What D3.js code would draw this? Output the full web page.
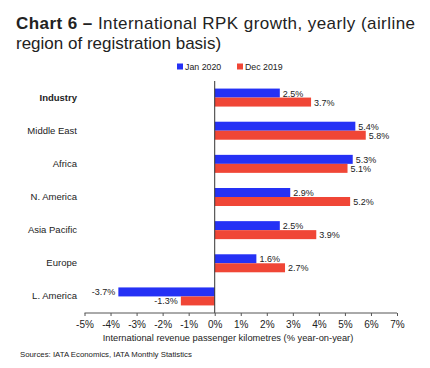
<!DOCTYPE html>
<html>
<head>
<meta charset="utf-8">
<script src="https://cdn.jsdelivr.net/npm/d3@7"></script>
<style>
  body { margin: 0; background: #fff; }
  text { font-family: "Liberation Sans", Arial, sans-serif; fill: #222; }
</style>
</head>
<body>
<svg width="430" height="368"></svg>
<script>
var categories = ["Industry", "Middle East", "Africa", "N. America", "Asia Pacific", "Europe", "L. America"];
var jan2020 = [2.5, 5.4, 5.3, 2.9, 2.5, 1.6, -3.7];
var dec2019 = [3.7, 5.8, 5.1, 5.2, 3.9, 2.7, -1.3];
var seriesNames = ["Jan 2020", "Dec 2019"];
var seriesColors = ["#2531f5", "#f04636"];
var xTicks = [-5, -4, -3, -2, -1, 0, 1, 2, 3, 4, 5, 6, 7];

var svg = d3.select("svg");

// title
var title = svg.append("text")
    .attr("x", 16).attr("y", 28.5)
    .style("font-size", "17px")
    .attr("textLength", 399)
    .attr("lengthAdjust", "spacing");
title.append("tspan").style("font-weight", "bold").text("Chart 6 \u2013 ");
title.append("tspan").text("International RPK growth, yearly (airline");
svg.append("text")
    .attr("x", 16).attr("y", 49)
    .style("font-size", "17px")
    .text("region of registration basis)");

var x = d3.scaleLinear().domain([-5, 7]).range([84.5, 397]);
var y = d3.scaleBand().domain(categories).range([81, 313]);
var barH = 9;

// legend
var legend = svg.append("g").attr("transform", "translate(177,70)");
seriesNames.forEach(function(s, i) {
  var lg = legend.append("g").attr("transform", "translate(" + (i * 60) + ",0)");
  lg.append("rect").attr("x", 0).attr("y", -6.5).attr("width", 6).attr("height", 6)
      .attr("fill", seriesColors[i]);
  lg.append("text").attr("x", 8).attr("y", 0).style("font-size", "8.8px").text(s);
});

var g = svg.append("g");

var series = [jan2020, dec2019];
series.forEach(function(vals, si) {
  var data = categories.map(function(c, i) { return {cat: c, v: vals[i]}; });
  var yOff = function(d) { return y(d.cat) + y.bandwidth() / 2 - barH + si * barH; };
  g.selectAll(".bar" + si).data(data).enter().append("rect")
      .attr("x", function(d) { return x(Math.min(0, d.v)); })
      .attr("y", yOff)
      .attr("width", function(d) { return Math.abs(x(d.v) - x(0)); })
      .attr("height", barH)
      .attr("fill", seriesColors[si]);
  g.selectAll(".lab" + si).data(data).enter().append("text")
      .attr("x", function(d) { return d.v >= 0 ? x(d.v) + 3 : x(d.v) - 3; })
      .attr("y", function(d) { return yOff(d) + barH / 2 + 3.5; })
      .attr("text-anchor", function(d) { return d.v >= 0 ? "start" : "end"; })
      .style("font-size", "9px")
      .text(function(d) { return d.v.toFixed(1) + "%"; });
});

// category labels
g.selectAll(".cat").data(categories).enter().append("text")
    .attr("x", 77)
    .attr("y", function(d) { return y(d) + y.bandwidth() / 2 + 3; })
    .attr("text-anchor", "end")
    .style("font-size", "9.5px")
    .style("font-weight", function(d) { return d === "Industry" ? "bold" : "normal"; })
    .text(function(d) { return d; });

// zero line
g.append("line")
    .attr("x1", x(0)).attr("x2", x(0))
    .attr("y1", 81).attr("y2", 313)
    .attr("stroke", "#333").attr("stroke-width", 1);

// x axis
var xAxis = d3.axisBottom(x)
    .tickValues(xTicks)
    .tickSize(3)
    .tickFormat(function(d) { return d + "%"; });
var ax = svg.append("g")
    .attr("transform", "translate(0,313)")
    .call(xAxis);
ax.select(".domain").attr("stroke", "#555").attr("d", "M" + x(-5) + ",0H" + x(7));
ax.selectAll(".tick line").attr("stroke", "#555");
ax.selectAll(".tick text")
    .attr("y", 8)
    .style("font-family", "'Liberation Sans', Arial, sans-serif")
    .style("font-size", "10px")
    .attr("fill", "#222");

svg.append("text")
    .attr("x", 228).attr("y", 341)
    .attr("text-anchor", "middle")
    .style("font-size", "9.3px")
    .text("International revenue passenger kilometres (% year-on-year)");

svg.append("text")
    .attr("x", 20).attr("y", 357)
    .style("font-size", "7.8px")
    .text("Sources: IATA Economics, IATA Monthly Statistics");
</script>
</body>
</html>
